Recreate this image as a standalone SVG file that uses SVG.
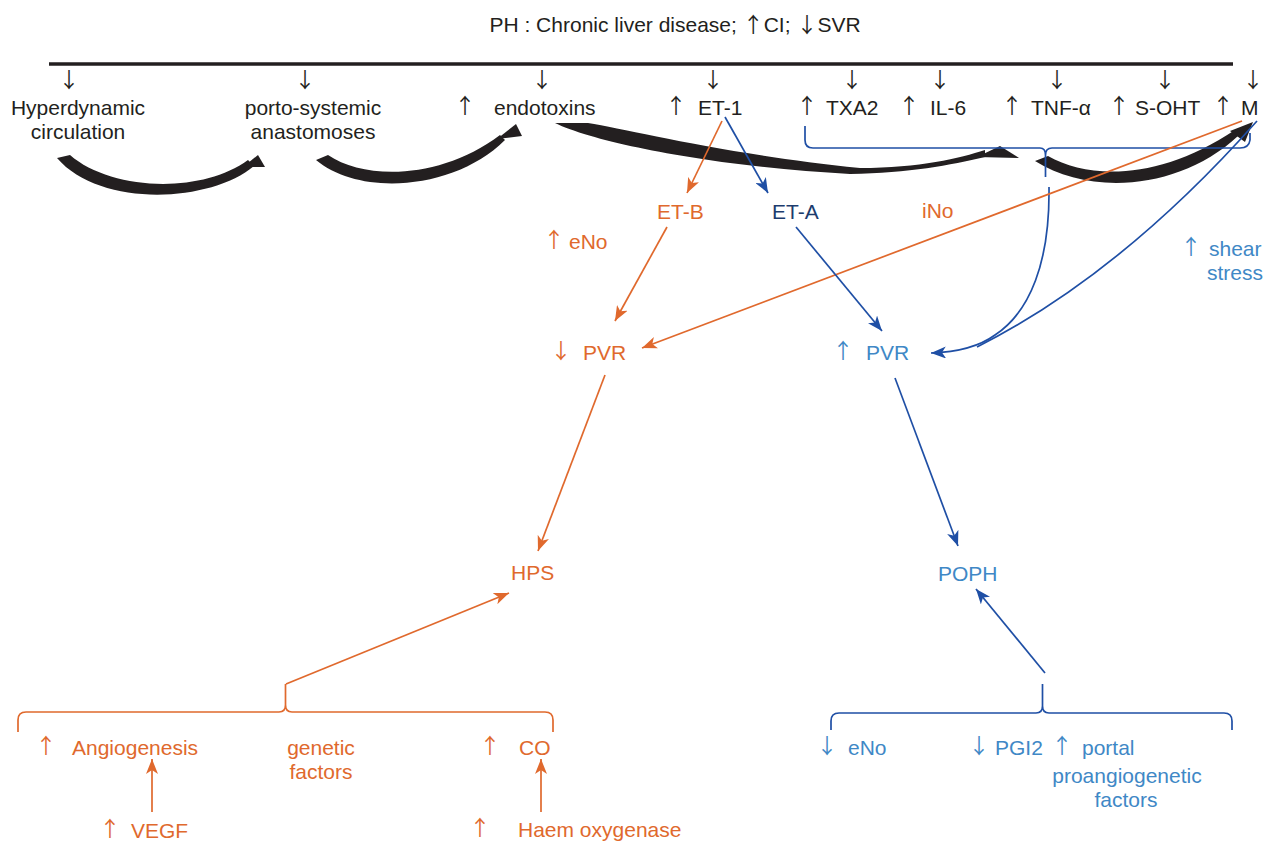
<svg xmlns="http://www.w3.org/2000/svg" width="1264" height="841" viewBox="0 0 1264 841">
  <style>
    text { font-family: 'Liberation Sans', Arial, Helvetica, sans-serif; font-size: 21px; }
    .ar { font-family: 'Noto Sans CJK SC', 'DejaVu Sans', sans-serif; }
    text.ar { text-anchor: middle; }
    .k { fill: #231f20; }
    .o { fill: #e0692d; }
    .b { fill: #3f88c6; }
    .n { fill: #1d3c6e; }
    .m { text-anchor: middle; }
    .e { text-anchor: end; }
    .ol { stroke: #e0692d; stroke-width: 1.7; fill: none; }
    .bl { stroke: #1f4fa5; stroke-width: 1.7; fill: none; }
    .ink { fill: #231f20; }
  </style>
  <defs>
    <marker id="ah-o" markerUnits="userSpaceOnUse" markerWidth="16" markerHeight="12" refX="15" refY="6" orient="auto">
      <path d="M0,0 L15,6 L0,12 L4,6 Z" fill="#e0692d"/>
    </marker>
    <marker id="ah-b" markerUnits="userSpaceOnUse" markerWidth="16" markerHeight="12" refX="15" refY="6" orient="auto">
      <path d="M0,0 L15,6 L0,12 L4,6 Z" fill="#1f4fa5"/>
    </marker>
  </defs>

  <!-- heading and baseline bar -->
  <g id="title">
    <text class="k m" x="675" y="32">PH : Chronic liver disease; <tspan class="ar">↑</tspan>CI; <tspan class="ar">↓</tspan>SVR</text>
    <line x1="49" y1="64" x2="1233" y2="64" stroke="#231f20" stroke-width="3.5"/>
  </g>

  <!-- small down arrows hanging from the bar -->
  <g id="bar-ticks">
    <text class="k ar" x="69" y="87">↓</text>
    <text class="k ar" x="305" y="87">↓</text>
    <text class="k ar" x="542" y="87">↓</text>
    <text class="k ar" x="713" y="87">↓</text>
    <text class="k ar" x="852" y="87">↓</text>
    <text class="k ar" x="940" y="87">↓</text>
    <text class="k ar" x="1057" y="87">↓</text>
    <text class="k ar" x="1165" y="87">↓</text>
    <text class="k ar" x="1253" y="87">↓</text>
  </g>

  <!-- top row factors -->
  <g id="hyperdynamic"><text class="k m" x="78" y="115">Hyperdynamic</text><text class="k m" x="78" y="139">circulation</text></g>
  <g id="porto-systemic"><text class="k m" x="313" y="115">porto-systemic</text><text class="k m" x="313" y="139">anastomoses</text></g>
  <g id="endotoxins"><text class="k ar" x="465" y="113">↑</text><text class="k" x="494" y="115">endotoxins</text></g>
  <g id="et1"><text class="k ar" x="676" y="113">↑</text><text class="k" x="698" y="115">ET-1</text></g>
  <g id="txa2"><text class="k ar" x="807" y="113">↑</text><text class="k" x="826" y="115">TXA2</text></g>
  <g id="il6"><text class="k ar" x="909" y="113">↑</text><text class="k" x="930" y="115">IL-6</text></g>
  <g id="tnf"><text class="k ar" x="1012" y="113">↑</text><text class="k" x="1031" y="115">TNF-α</text></g>
  <g id="s-oht"><text class="k ar" x="1119" y="113">↑</text><text class="k" x="1135" y="115">S-OHT</text></g>
  <g id="m"><text class="k ar" x="1223" y="113">↑</text><text class="k" x="1241" y="115">M</text></g>

  <!-- calligraphic black arrows -->
  <g id="flow-arrows" class="ink">
    <path d="M57,158 L70,155 C110,190 200,195 248,160 L254,166 C210,203 100,208 57,158 Z"/>
    <path d="M243,167 L258,155 L265,167 Z"/>
    <path d="M316,160 L328,155 C365,180 440,180 500,135 L505,140 C455,190 360,197 316,160 Z"/>
    <path d="M497,139 L516,124 L522,136 Z"/>
    <path d="M555,123 L588,123 C630,130 730,155 860,168 C920,168 960,158 985,150 L985,157 C950,165 910,173 850,174 C730,168 600,145 555,123 Z"/>
    <path d="M977,157 L1000,146 L1019,158 Z"/>
    <path d="M1035,161 L1048,156 C1090,180 1160,180 1235,130 L1238,136 C1180,190 1090,196 1035,161 Z"/>
    <path d="M1230,131 L1253,122 L1245,142 Z"/>
  </g>

  <!-- middle nodes -->
  <g id="et-b"><text class="o" x="657" y="219">ET-B</text></g>
  <g id="et-a"><text class="n" x="772" y="219">ET-A</text></g>
  <g id="eno-up"><text class="o ar" x="554" y="247">↑</text><text class="o" x="569" y="249">eNo</text></g>
  <g id="ino"><text class="o" x="922" y="218">iNo</text></g>
  <g id="shear-stress"><text class="b ar" x="1191" y="254">↑</text><text class="b" x="1209" y="256">shear</text><text class="b e" x="1263" y="280">stress</text></g>
  <g id="pvr-down"><text class="o ar" x="561" y="358">↓</text><text class="o" x="583" y="360">PVR</text></g>
  <g id="pvr-up"><text class="b ar" x="843" y="358">↑</text><text class="b" x="866" y="360">PVR</text></g>
  <g id="hps"><text class="o" x="511" y="580">HPS</text></g>
  <g id="poph"><text class="b" x="938" y="581">POPH</text></g>

  <!-- bottom left factors -->
  <g id="angiogenesis"><text class="o ar" x="46" y="753">↑</text><text class="o" x="72" y="755">Angiogenesis</text></g>
  <g id="genetic"><text class="o m" x="321" y="755">genetic</text><text class="o m" x="321" y="779">factors</text></g>
  <g id="co"><text class="o ar" x="490" y="753">↑</text><text class="o" x="519" y="755">CO</text></g>
  <g id="vegf"><text class="o ar" x="110" y="836">↑</text><text class="o" x="131" y="838">VEGF</text></g>
  <g id="haem"><text class="o ar" x="480" y="835">↑</text><text class="o" x="518" y="837">Haem oxygenase</text></g>

  <!-- bottom right factors -->
  <g id="eno-down"><text class="b ar" x="827" y="753">↓</text><text class="b" x="848" y="755">eNo</text></g>
  <g id="pgi2"><text class="b ar" x="979" y="753">↓</text><text class="b" x="995" y="755">PGI2</text></g>
  <g id="portal"><text class="b ar" x="1062" y="753">↑</text><text class="b" x="1082" y="755">portal</text><text class="b m" x="1127" y="783">proangiogenetic</text><text class="b m" x="1126" y="807">factors</text></g>

  <!-- connectors -->
  <g id="connectors">
    <!-- brace under TXA2 ... M -->
    <path class="bl" d="M805,126 V140 Q805,148 813,148 H1040 Q1045.5,148 1045.5,155 V177 M1045.5,155 Q1045.5,148 1052,148 H1240 Q1249,148 1250,140 V133"/>
    <path class="bl" d="M1049,187 C1050,262 1030,312 995,335 C980,346 960,352 931,353" marker-end="url(#ah-b)"/>
    <path class="bl" d="M1257,121 Q1120,275 977,347"/>
    <line class="ol" x1="1242" y1="121" x2="642" y2="348" marker-end="url(#ah-o)"/>

    <line class="ol" x1="722" y1="121" x2="687" y2="193" marker-end="url(#ah-o)"/>
    <line class="bl" x1="725" y1="117" x2="768" y2="193" marker-end="url(#ah-b)"/>
    <line class="ol" x1="667" y1="227" x2="615" y2="321" marker-end="url(#ah-o)"/>
    <line class="bl" x1="796" y1="227" x2="882" y2="331" marker-end="url(#ah-b)"/>
    <line class="ol" x1="605" y1="375" x2="538" y2="551" marker-end="url(#ah-o)"/>
    <line class="bl" x1="895" y1="378" x2="958" y2="546" marker-end="url(#ah-b)"/>

    <!-- lower braces -->
    <path class="ol" d="M18,732 V720 Q18,712 26,712 H279 Q285.5,712 285.5,705 V684 M285.5,705 Q285.5,712 292,712 H545 Q553,712 553,720 V732"/>
    <line class="ol" x1="286" y1="684" x2="509" y2="593" marker-end="url(#ah-o)"/>
    <path class="bl" d="M831,730 V721 Q831,713 839,713 H1036 Q1042.5,713 1042.5,706 V684 M1042.5,706 Q1042.5,713 1049,713 H1224 Q1232,713 1232,721 V730"/>
    <line class="bl" x1="1045" y1="673" x2="976" y2="589" marker-end="url(#ah-b)"/>

    <line class="ol" x1="152" y1="812" x2="152" y2="759" marker-end="url(#ah-o)"/>
    <line class="ol" x1="541" y1="812" x2="541" y2="759" marker-end="url(#ah-o)"/>
  </g>
</svg>
